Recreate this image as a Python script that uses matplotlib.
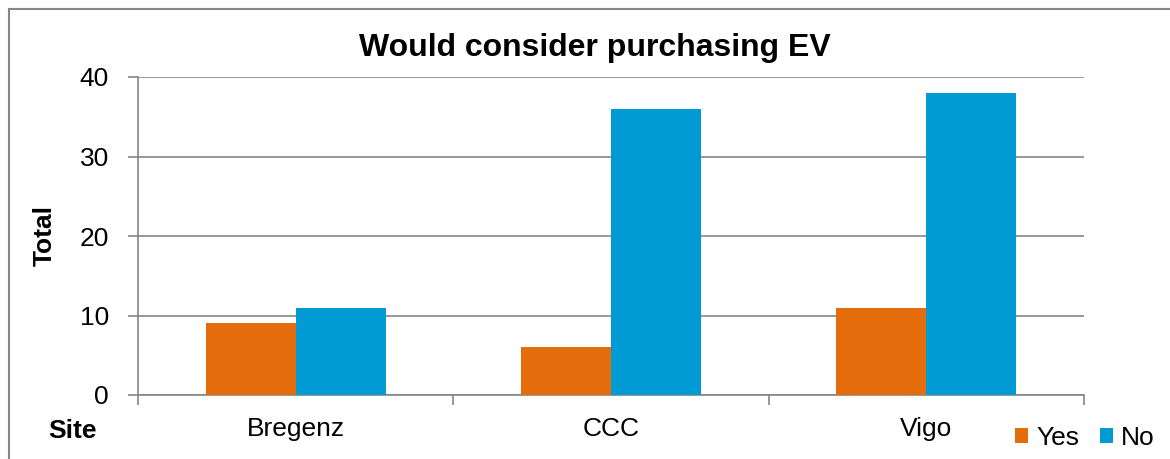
import numpy as np
import matplotlib.pyplot as plt
from matplotlib.patches import Rectangle

plt.rcParams['font.family'] = ['Liberation Sans', 'DejaVu Sans']

sites = ['Bregenz', 'CCC', 'Vigo']
yes_vals = [9, 6, 11]
no_vals = [11, 36, 38]

orange = '#E46C0A'
blue = '#009BD5'
grey = '#868686'

fig = plt.figure(figsize=(11.7, 4.59), dpi=100)
ax = fig.add_axes([138/1170, 1 - 395/459, (1084 - 138)/1170, (395 - 77)/459])

x = np.arange(len(sites))
w = 0.285
ax.bar(x - w/2, yes_vals, w, color=orange, label='Yes', zorder=3)
ax.bar(x + w/2, no_vals, w, color=blue, label='No', zorder=3)

ax.set_xlim(-0.5, 2.5)
ax.set_ylim(0, 40)
ax.set_yticks([0, 10, 20, 30, 40])
ax.yaxis.grid(True, color=grey, linewidth=1.2, zorder=0)

# ticks on category boundaries, labels centered
ax.set_xticks([-0.5, 0.5, 1.5, 2.5])
ax.set_xticklabels([])
ax.set_xticks(x, minor=True)
ax.set_xticklabels(sites, minor=True)
ax.tick_params(axis='x', which='minor', length=0, labelsize=19, pad=16)
ax.tick_params(axis='x', which='major', length=7, color=grey, width=1.2)
ax.tick_params(axis='y', length=7, color=grey, width=1.2, labelsize=19, pad=14)

for s in ['top', 'right']:
    ax.spines[s].set_visible(False)
for s in ['left', 'bottom']:
    ax.spines[s].set_color(grey)
    ax.spines[s].set_linewidth(1.2)

fig.text(45/1170, 1 - 235/459, 'Total', fontsize=19, fontweight='bold', rotation=90,
         ha='center', va='center')
fig.text(72/1170, 1 - 431/459, 'Site', fontsize=19, fontweight='bold', ha='center', va='center')
fig.text(595/1170, 1 - 48/459, 'Would consider purchasing EV', fontsize=23,
         fontweight='bold', ha='center', va='center')

ax.legend(loc='center', bbox_to_anchor=(1085/1170, 1 - 438/459), bbox_transform=fig.transFigure,
          frameon=False, ncol=2, fontsize=19, handlelength=0.5, handleheight=0.5,
          handletextpad=0.3, columnspacing=0.8, borderpad=0)

fig.patches.append(Rectangle((9/1170, -0.1), 1.2, 1 - 9/459 + 0.1, transform=fig.transFigure,
                             fill=False, edgecolor=grey, linewidth=1.5))

fig.savefig('out.png', dpi=100)
